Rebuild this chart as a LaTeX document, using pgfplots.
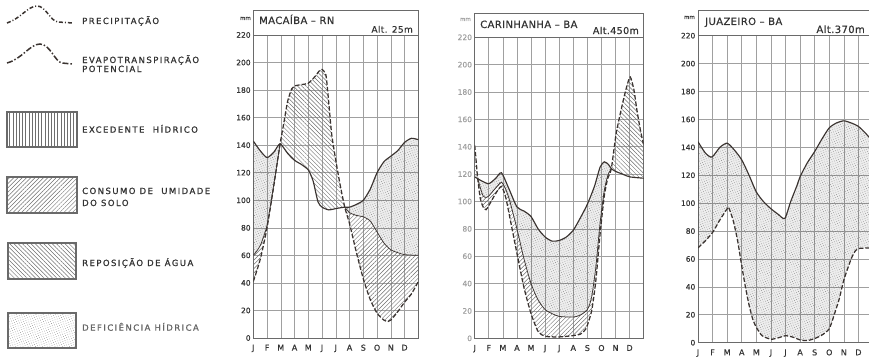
\documentclass[border=0pt]{standalone}
\usepackage{fontspec}
\setmainfont{DejaVu Sans}
\newfontfamily\legfont[LetterSpace=17,FakeBold=1]{DejaVu Sans}
\newfontfamily\titfont[LetterSpace=4,FakeBold=0.6]{DejaVu Sans}
\newfontfamily\tfont[FakeBold=0.5]{DejaVu Sans}
\usepackage{pgfplots}
\usepackage{pgfplotstable}
\pgfplotsset{compat=1.18}
\usepgfplotslibrary{fillbetween}
\usetikzlibrary{patterns.meta}
\definecolor{gridc}{HTML}{A0A0A0}
\definecolor{framec}{HTML}{6A6A6A}
\definecolor{linec}{HTML}{3A3330}
\definecolor{patc}{HTML}{6E6E6E}
\definecolor{txtc}{HTML}{333333}

% ---------- data (mm) ----------
\pgfplotstableread{
x y
0 41
0.5 57
1 80
1.5 111
1.95 141
2.2 155
2.5 172
2.8 181
3 183
3.5 184
4 185
4.5 190
4.8 194
5 195
5.28 191
5.45 175
5.7 148
6 129
6.3 112
6.65 95
7 83
7.5 62
8 43
8.5 28
9 18
9.5 13
9.8 12
10 13
10.5 19
11 26
11.5 32
12 41
}\Pone
\pgfplotstableread{
x y
0 143
0.5 136
1 131
1.5 135
1.95 141
2.5 134
3 129
3.5 126
4 122
4.35 114
4.7 99
5 95
5.5 93
6 94
6.65 95
7 95
7.5 97
8 100
8.5 108
9 120
9.5 128
10 132
10.5 136
11 142
11.5 145
12 144
}\Eone
\pgfplotstableread{
x y
0 60
0.5 67
1 82
1.5 112
1.95 141
}\Ronea
\pgfplotstableread{
x y
6.65 95
7 91
7.5 89
8 88
8.5 85
9 77
9.5 69
10 64
10.5 62
11 60.5
12 60
}\Roneb
\pgfplotstableread{
x y
0 141
0.1 130
0.2 118
0.4 102
0.6 96
0.8 94
1 97
1.5 106
1.9 111
2.2 103
2.5 88
3 62
3.5 37
4 18
4.5 5
5 1.5
6 1
7 2
7.5 3
7.9 7
8.3 20
8.6 42
8.9 76
9.2 104
9.45 117
9.7 124
10.05 150
10.55 174
10.85 186
11.05 191
11.3 182
11.5 168
11.75 153
12 141
}\Ptwo
\pgfplotstableread{
x y
0 118
0.5 115
1 113
1.5 117
1.9 121
2.4 110
3 96
3.5 93
4 89
4.5 80
5 74
5.5 71
6 71.5
6.5 74
7 79
7.5 88
8 98
8.5 111
8.9 125
9.2 129
9.5 127
9.7 124
10 122
10.5 120
11 118
12 117
}\Etwo
\pgfplotstableread{
x y
0.2 117
0.4 110
0.6 104
0.8 103
1 104
1.5 110
1.9 114
2.2 109
2.5 100
3 80
3.5 58
4 40
4.5 28
5 21
5.5 18
6 16
7 15.5
7.5 17
8 21
8.3 30
8.6 52
8.9 84
9.2 108
9.45 119
9.7 124
}\Rtwo
\pgfplotstableread{
x y
0 68
0.5 73
1 79
1.5 88
2 96
2.1 97
2.4 88
2.7 74
3 55
3.25 40
3.5 27
3.75 17
4 11
4.4 5
5 2.5
5.5 3.5
6 5
6.5 4
7 2
7.5 1.5
8 3
8.5 5.5
9 10
9.4 22
9.7 32
10 45
10.5 60
10.8 66
11 67.5
12 68
}\Pthree
\pgfplotstableread{
x y
0 144
0.5 136
0.95 133
1.5 140
2 143
2.5 138
3 131
3.5 120
4 108
4.5 101
5 96
5.5 92
5.95 89
6.35 101
6.8 113
7 119
7.5 129
8 137
8.5 146
9 154
9.5 157.5
10 159
10.5 157.5
11 155
11.5 150
12 144
}\Ethree

\pgfplotsset{
 panel/.style={
  scale only axis, set layers, xmin=0, xmax=12, ymin=0, ymax=220,
  xtick={0,...,12}, xticklabels={J,F,M,A,M,J,J,A,S,O,N,D,},
  ytick={0,20,...,220},
  grid=major, major grid style={gridc, line width=0.6pt},
  axis line style={framec, line width=0.9pt},
  major tick length=0pt,
  tick label style={font=\tfont\fontsize{7.5}{8}\selectfont, text=txtc},
  /pgf/number format/assume math mode=true,
  xticklabel style={anchor=north, inner sep=0pt, yshift=-6.5pt, font=\tfont\fontsize{8}{9}\selectfont},
  yticklabel style={anchor=east, inner sep=0pt, xshift=-2.5pt},
 },
 Pline/.style={linec, line width=1.25pt, dash pattern=on 4.5pt off 2pt, smooth, tension=0.4, mark=none},
 Eline/.style={linec, line width=1.15pt, smooth, tension=0.4, mark=none},
 Rline/.style={linec, line width=0.75pt, smooth, tension=0.4, mark=none},
 hid/.style={draw=none, mark=none, forget plot},
 rech/.style={pattern={Lines[angle=-45,distance=3pt,line width=0.45pt]}, pattern color=patc, draw=none},
 cons/.style={pattern={Lines[angle=45,distance=3pt,line width=0.45pt]}, pattern color=patc, draw=none},
 defi/.style={pattern={Dots[distance=2.3pt,radius=0.36pt,angle=20]}, pattern color=patc, draw=none},
 tint/.style={fill=black, fill opacity=0.07, draw=none},
}
\begin{document}
\begin{tikzpicture}

% ---------- Panel 1: Macaiba ----------
\begin{axis}[panel, name=p1, at={(253.3pt,19pt)}, anchor=south west, width=165pt, height=303pt]
\addplot[hid, name path=P1] table {\Pone};
\addplot[hid, name path=E1] table {\Eone};
\addplot[hid, name path=R1a] table {\Ronea};
\addplot[hid, name path=R1b] table {\Roneb};
\addplot[rech] fill between[of=P1 and E1, soft clip={domain=1.95:6.65}];
\addplot[cons] fill between[of=P1 and R1a, soft clip={domain=0:1.95}];
\addplot[cons] fill between[of=P1 and R1b, soft clip={domain=6.65:12}];
\addplot[tint] fill between[of=R1a and E1, soft clip={domain=0:1.95}];
\addplot[tint] fill between[of=R1b and E1, soft clip={domain=6.65:12}];
\addplot[defi] fill between[of=R1a and E1, soft clip={domain=0:1.95}];
\addplot[defi] fill between[of=R1b and E1, soft clip={domain=6.65:12}];
\addplot[Rline] table {\Ronea};
\addplot[Rline] table {\Roneb};
\addplot[Eline] table {\Eone};
\addplot[Pline] table {\Pone};
\end{axis}
\draw[framec, line width=0.9pt] (p1.north west) -- ++(0,25pt) -| (p1.north east);
\node[anchor=base west, text=txtc, font=\titfont\fontsize{10}{12}\selectfont, inner sep=0pt] at (259pt,333pt) {MACAÍBA – RN};
\node[anchor=base east, text=txtc, font=\titfont\fontsize{9}{11}\selectfont, inner sep=0pt] at (413pt,324.3pt) {Alt. 25m};
\node[anchor=base east, text=txtc, font=\tfont\fontsize{5.5}{6}\selectfont, inner sep=0pt] at (251pt,337pt) {mm};

% ---------- Panel 2: Carinhanha ----------
\begin{axis}[panel, name=p2, at={(474.7pt,18.7pt)}, anchor=south west, width=169pt, height=301pt,
  yticklabel style={text=gray!75}]
\addplot[hid, name path=P2] table {\Ptwo};
\addplot[hid, name path=E2] table {\Etwo};
\addplot[hid, name path=R2] table {\Rtwo};
\addplot[rech] fill between[of=P2 and E2, soft clip={domain=9.7:12}];
\addplot[rech] fill between[of=P2 and E2, soft clip={domain=0:0.2}];
\addplot[cons] fill between[of=P2 and R2, soft clip={domain=0.2:9.7}];
\addplot[tint] fill between[of=R2 and E2, soft clip={domain=0.2:9.7}];
\addplot[defi] fill between[of=R2 and E2, soft clip={domain=0.2:9.7}];
\addplot[Rline] table {\Rtwo};
\addplot[Eline] table {\Etwo};
\addplot[Pline] table {\Ptwo};
\end{axis}
\draw[framec, line width=0.9pt] (p2.north west) -- ++(0,24.3pt) -| (p2.north east);
\node[anchor=base west, text=txtc, font=\titfont\fontsize{10}{12}\selectfont, inner sep=0pt] at (480pt,329pt) {CARINHANHA – BA};
\node[anchor=base east, text=txtc, font=\titfont\fontsize{9.5}{11}\selectfont, inner sep=0pt] at (639pt,323pt) {Alt.450m};
\node[anchor=base east, text=gray!75, font=\tfont\fontsize{5.5}{6}\selectfont, inner sep=0pt] at (471pt,336pt) {mm};

% ---------- Panel 3: Juazeiro ----------
\begin{axis}[panel, name=p3, at={(698pt,14.3pt)}, anchor=south west, width=175pt, height=307pt]
\addplot[hid, name path=P3] table {\Pthree};
\addplot[hid, name path=E3] table {\Ethree};
\addplot[tint] fill between[of=P3 and E3];
\addplot[defi] fill between[of=P3 and E3];
\addplot[Eline] table {\Ethree};
\addplot[Pline] table {\Pthree};
\end{axis}
\draw[framec, line width=0.9pt] (p3.north west) -- ++(0,25.5pt) -| (p3.north east);
\node[anchor=base west, text=txtc, font=\titfont\fontsize{10}{12}\selectfont, inner sep=0pt] at (705pt,332pt) {JUAZEIRO – BA};
\node[anchor=base east, text=txtc, font=\titfont\fontsize{10}{12}\selectfont, inner sep=0pt] at (865pt,324pt) {Alt.370m};
\node[anchor=base east, text=txtc, font=\tfont\fontsize{5.5}{6}\selectfont, inner sep=0pt] at (695pt,338pt) {mm};

% ---------- Legend ----------
\begin{scope}[x=1pt,y=1pt]
\draw[linec, line width=1.5pt, dash pattern=on 4pt off 2pt on 1pt off 2pt]
  (7,334) .. controls (20,338) and (28,351) .. (37,351) .. controls (46,351) and (50,336) .. (58,335) -- (73,334);
\draw[linec, line width=1.5pt, dash pattern=on 6pt off 2pt on 1.5pt off 2pt]
  (7,294) .. controls (22,298) and (30,313) .. (40,313) .. controls (50,313) and (55,295) .. (62,294) -- (72,293);
\draw[framec, line width=2.2pt, pattern={Lines[angle=90,distance=3.2pt,line width=0.5pt]}, pattern color=patc] (7,210) rectangle (77,245);
\draw[framec, line width=2.2pt, pattern={Lines[angle=45,distance=3pt,line width=0.45pt]}, pattern color=patc] (7,144) rectangle (77,180);
\draw[framec, line width=2.2pt, pattern={Lines[angle=-45,distance=3pt,line width=0.45pt]}, pattern color=patc] (8,78) rectangle (76,114);
\draw[framec, line width=2.2pt, pattern={Dots[distance=2.3pt,radius=0.36pt,angle=20]}, pattern color=patc] (8,9) rectangle (76,44);
\tikzset{lg/.style={anchor=base west, text=txtc, inner sep=0pt, font=\legfont\fontsize{8.5}{9}\selectfont}}
\node[lg] at (82,333) {PRECIPITAÇÃO};
\node[lg] at (82,294) {EVAPOTRANSPIRAÇÃO};
\node[lg] at (82,285) {POTENCIAL};
\node[lg] at (82,224.3) {EXCEDENTE \ HÍDRICO};
\node[lg] at (82,163) {CONSUMO DE \ UMIDADE};
\node[lg] at (82,151) {DO SOLO};
\node[lg] at (82,91) {REPOSIÇÃO DE ÁGUA};
\node[lg, text=gray!80!black] at (82,26.3) {DEFICIÊNCIA HÍDRICA};
\end{scope}
\pgfresetboundingbox
\useasboundingbox (0,0) rectangle (869pt,357pt);
\end{tikzpicture}
\end{document}
